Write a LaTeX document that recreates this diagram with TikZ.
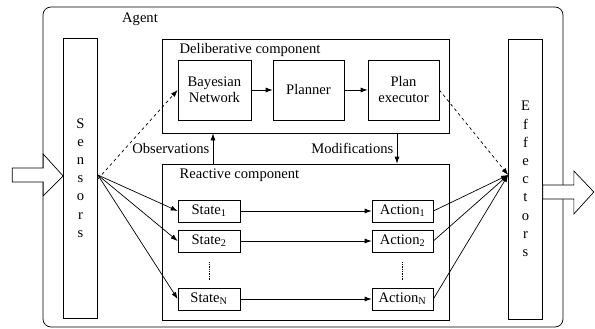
\documentclass[tikz,border=0pt]{standalone}
\usepackage{fontspec}
\setmainfont{Liberation Serif}
\usetikzlibrary{arrows.meta,positioning}

\begin{document}
\begin{tikzpicture}[x=1pt,y=-1pt,line width=0.7pt,
  every node/.style={font=\fontsize{14.6}{16}\selectfont},
  box/.style={draw,inner sep=0pt,align=center},
  col/.style={box,minimum width=34pt,minimum height=280pt,font=\fontsize{14.6}{18.2}\selectfont},
  >={Latex[length=7pt,width=5pt]}]
\useasboundingbox (0,0) rectangle (595,329);
\tikzstyle{comp}=[draw,inner sep=0pt]
% agent frame
\draw[rounded corners=8pt] (43,7) rectangle (563,327);
\node (agent) at (140,19) {Agent};
% sensors and effectors
\node[col] (sen) at (80.5,178) {S\\e\\n\\s\\o\\r\\s};
\node[col] (eff) at (525.5,179) {E\\f\\f\\e\\c\\t\\o\\r\\s};
\coordinate (sfan) at ([yshift=3pt]sen.east);
\coordinate (efan) at ([yshift=4pt]eff.west);
% deliberative component
\node[comp,minimum width=287pt,minimum height=94pt] (delib) at (305.5,86) {};
\node[anchor=west] (delibt) at (176,50) {Deliberative component};
\node[box,minimum width=73pt,minimum height=60pt] (bn) at (214.5,90) {Bayesian\\Network};
\node[box,minimum width=71pt,minimum height=60pt] (plan) at (308.5,90) {Planner};
\node[box,minimum width=71pt,minimum height=60pt] (exec) at (403.5,90) {Plan\\executor};
\draw[->] (bn) -- (plan);
\draw[->] (plan) -- (exec);
% reactive component
\node[comp,minimum width=287pt,minimum height=156pt] (react) at (305.5,242) {};
\node[anchor=west] (reactt) at (176,175) {Reactive component};
\node[box,minimum width=62pt,minimum height=22pt] (s1) at (209,211) {State\textsubscript{1}};
\node[box,minimum width=62pt,minimum height=22pt] (s2) at (209,241) {State\textsubscript{2}};
\node[box,minimum width=62pt,minimum height=22pt] (sn) at (209,299) {State\textsubscript{N}};
\node[box,minimum width=61pt,minimum height=22pt] (a1) at (402.5,211) {Action\textsubscript{1}};
\node[box,minimum width=61pt,minimum height=22pt] (a2) at (402.5,241) {Action\textsubscript{2}};
\node[box,minimum width=61pt,minimum height=22pt] (an) at (402.5,299) {Action\textsubscript{N}};
\draw[->] (s1) -- (a1);
\draw[->] (s2) -- (a2);
\draw[->] (sn) -- (an);
\draw[densely dotted] ([yshift=-10pt]s2.south) -- ([yshift=8pt]sn.north);
\draw[densely dotted] ([yshift=-10pt]a2.south) -- ([yshift=8pt]an.north);
% links between components
\draw[->] ([xshift=-92.5pt]react.north) -- node[left] {Observations} ([xshift=-92.5pt]delib.south);
\draw[->] ([xshift=91.5pt]delib.south) -- node[left] {Modifications} ([xshift=91.5pt]react.north);
\draw[dashed,->] ([yshift=-4pt]sfan) -- (bn.west);
\draw[dashed,->] (exec.east) -- (efan);
\foreach \s in {s1,s2,sn}
  \draw[->] (sfan) -- (\s.west);
\foreach \a in {a1,a2,an}
  \draw[->] (\a.east) -- (efan);
% input and output
\draw[fill=white] ([yshift=2pt]sen.west) -- ++(-20,-22) -- ++(0,14) -- ++(-31,0) -- ++(0,14)
  -- ++(31,0) -- ++(0,14) -- cycle;
\draw[fill=white] ([yshift=-6pt]eff.east) -- ++(31,0) -- ++(0,-14) -- ++(20,21) -- ++(-20,22)
  -- ++(0,-15) -- ++(-31,0) -- cycle;
\end{tikzpicture}
\end{document}
